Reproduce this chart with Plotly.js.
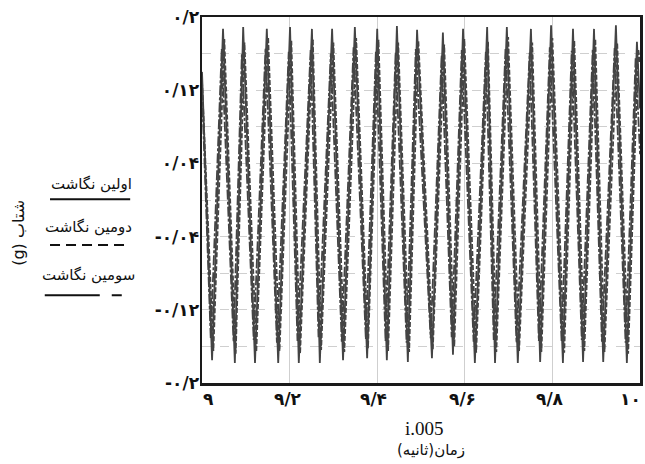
<!DOCTYPE html>
<html>
<head>
<meta charset="utf-8">
<script src="https://cdn.plot.ly/plotly-3.0.1.min.js"></script>
<style>html,body{margin:0;padding:0;background:#fff}#chart{width:645px;height:464px}</style>
</head>
<body>
<div id="chart"></div>
<script>
// ---- data ----
const seriesNames = ["اولین نگاشت", "دومین نگاشت", "سومین نگاشت"];

// first record (solid)
const t1 = [9.000, 9.023, 9.048, 9.075, 9.094, 9.121, 9.148, 9.174, 9.201, 9.221, 9.251, 9.269, 9.297, 9.322, 9.349, 9.377, 9.400, 9.422, 9.445, 9.470, 9.491, 9.525, 9.550, 9.573, 9.596, 9.623, 9.651, 9.669, 9.696, 9.721, 9.751, 9.772, 9.797, 9.824, 9.847, 9.870, 9.895, 9.916, 9.945, 9.970, 9.993, 10.000];
const a1 = [0.140, -0.175, 0.187, -0.178, 0.189, -0.178, 0.187, -0.178, 0.189, -0.178, 0.187, -0.178, 0.187, -0.175, 0.189, -0.173, 0.187, -0.175, 0.190, -0.177, 0.186, -0.173, 0.183, -0.169, 0.187, -0.178, 0.189, -0.178, 0.189, -0.178, 0.187, -0.177, 0.191, -0.178, 0.187, -0.177, 0.187, -0.177, 0.191, -0.178, 0.173, 0.100];

// second record (dashed)
const t2 = [9.000, 9.026, 9.051, 9.077, 9.097, 9.124, 9.151, 9.177, 9.204, 9.224, 9.253, 9.272, 9.300, 9.325, 9.352, 9.379, 9.403, 9.425, 9.448, 9.473, 9.494, 9.527, 9.553, 9.576, 9.599, 9.626, 9.653, 9.672, 9.699, 9.724, 9.754, 9.775, 9.800, 9.827, 9.850, 9.873, 9.898, 9.919, 9.948, 9.973, 9.996, 10.000];
const a2 = [0.130, -0.165, 0.176, -0.168, 0.172, -0.166, 0.178, -0.165, 0.174, -0.168, 0.176, -0.164, 0.172, -0.166, 0.177, -0.162, 0.175, -0.165, 0.172, -0.166, 0.174, -0.163, 0.170, -0.160, 0.176, -0.167, 0.173, -0.166, 0.178, -0.165, 0.172, -0.166, 0.177, -0.167, 0.174, -0.165, 0.176, -0.166, 0.172, -0.168, 0.165, 0.150];

// third record (long dash - short dash)
const t3 = [9.000, 9.020, 9.045, 9.072, 9.091, 9.118, 9.145, 9.171, 9.198, 9.218, 9.248, 9.266, 9.294, 9.319, 9.346, 9.374, 9.397, 9.419, 9.442, 9.467, 9.488, 9.522, 9.547, 9.570, 9.593, 9.620, 9.648, 9.666, 9.693, 9.718, 9.748, 9.769, 9.794, 9.821, 9.844, 9.867, 9.892, 9.913, 9.942, 9.967, 9.990, 10.000];
const a3 = [0.120, -0.152, 0.165, -0.155, 0.160, -0.153, 0.166, -0.156, 0.162, -0.154, 0.164, -0.150, 0.160, -0.155, 0.167, -0.152, 0.163, -0.154, 0.161, -0.156, 0.165, -0.151, 0.158, -0.150, 0.164, -0.155, 0.162, -0.153, 0.166, -0.156, 0.161, -0.154, 0.167, -0.155, 0.163, -0.153, 0.165, -0.155, 0.166, -0.156, 0.155, 0.050];

// axis ticks
const xTickVals = [9, 9.2, 9.4, 9.6, 9.8, 10];
const xTickText = ["۹", "۹/۲", "۹/۴", "۹/۶", "۹/۸", "۱۰"];
const yTickVals = [-0.2, -0.16, -0.12, -0.08, -0.04, 0, 0.04, 0.08, 0.12, 0.16, 0.2];
const yTickText = ["-۰/۲", "", "-۰/۱۲", "", "-۰/۰۴", "", "۰/۰۴", "", "۰/۱۲", "", "۰/۲"];

const xTitle = "i.005";
const xTitle2 = "زمان(ثانیه)";
const yTitle = "\u202Bشتاب (g)\u202C";

// ---- drawing ----
const lineColor = "#444444";
const traces = [
  {x: t3, y: a3, name: seriesNames[2], mode: "lines", line: {color: lineColor, width: 1.8, dash: "10px,2px,3px,2px"}},
  {x: t2, y: a2, name: seriesNames[1], mode: "lines", line: {color: lineColor, width: 1.8, dash: "5px,2px"}},
  {x: t1, y: a1, name: seriesNames[0], mode: "lines", line: {color: lineColor, width: 1.8}}
];

const persFont = "DejaVu Sans, Noto Sans, sans-serif";
const tickFont = {family: persFont, size: 17, color: "#111", weight: "bold"};

// x tick labels placed at their axis values, ends nudged inward like the reference
const xLabelShift = [6, -2, -4, -2, -2, -10];
const xTickAnnotations = xTickVals.map((v, i) => ({
  text: xTickText[i], xref: "x", yref: "paper", x: v, y: 0, yanchor: "top", xanchor: "center",
  yshift: -4, xshift: xLabelShift[i], showarrow: false, font: tickFont
}));

const layout = {
  width: 645, height: 464,
  margin: {l: 202, r: 5, t: 17, b: 81},
  paper_bgcolor: "#fff", plot_bgcolor: "#fff",
  showlegend: false,
  xaxis: {
    range: [9, 10], tickvals: xTickVals, showticklabels: false,
    showgrid: true, gridcolor: "#cfcfcf", gridwidth: 1,
    showline: true, linecolor: "#1a1a1a", linewidth: 2.5, mirror: true,
    ticks: "", zeroline: false
  },
  yaxis: {
    range: [-0.2, 0.2], tickvals: yTickVals, ticktext: yTickText,
    showgrid: true, gridcolor: "#cfcfcf", gridwidth: 1, griddash: "dash",
    showline: true, linecolor: "#1a1a1a", linewidth: 2.5, mirror: true,
    ticks: "", zeroline: false, tickfont: tickFont, ticklabelstandoff: -3
  },
  annotations: xTickAnnotations.concat([
    {text: xTitle, xref: "paper", yref: "paper", x: 0.509, y: -0.123, showarrow: false,
     font: {family: "Liberation Serif, serif", size: 19, color: "#111"}, xanchor: "center", yanchor: "middle"},
    {text: xTitle2, xref: "paper", yref: "paper", x: 0.523, y: -0.183, showarrow: false,
     font: {family: persFont, size: 15, color: "#111"}, xanchor: "center", yanchor: "middle"},
    {text: yTitle, xref: "paper", yref: "paper", x: -0.418, y: 0.41, showarrow: false, textangle: -90,
     font: {family: persFont, size: 16, color: "#111"}, xanchor: "center", yanchor: "middle"},
    {text: seriesNames[0], xref: "paper", yref: "paper", x: -0.253, y: 0.545, showarrow: false,
     font: {family: persFont, size: 15, color: "#111"}, xanchor: "center", yanchor: "middle"},
    {text: seriesNames[1], xref: "paper", yref: "paper", x: -0.258, y: 0.425, showarrow: false,
     font: {family: persFont, size: 15, color: "#111"}, xanchor: "center", yanchor: "middle"},
    {text: seriesNames[2], xref: "paper", yref: "paper", x: -0.258, y: 0.294, showarrow: false,
     font: {family: persFont, size: 15, color: "#111"}, xanchor: "center", yanchor: "middle"}
  ]),
  shapes: [
    {type: "line", xref: "paper", yref: "paper", x0: -0.347, x1: -0.164, y0: 0.502, y1: 0.502,
     line: {color: "#111", width: 2}},
    {type: "line", xref: "paper", yref: "paper", x0: -0.347, x1: -0.171, y0: 0.377, y1: 0.377,
     line: {color: "#111", width: 2, dash: "10px,6px"}},
    {type: "line", xref: "paper", yref: "paper", x0: -0.359, x1: -0.183, y0: 0.240, y1: 0.240,
     line: {color: "#111", width: 2, dash: "55px,12px,10px,100px"}}
  ]
};

Plotly.newPlot("chart", traces, layout, {displayModeBar: false, staticPlot: true});
</script>
</body>
</html>
